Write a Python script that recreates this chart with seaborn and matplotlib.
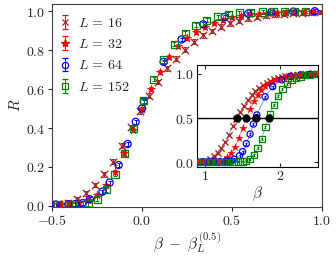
import numpy as np
import pandas as pd
import matplotlib
matplotlib.use("Agg")
import matplotlib.pyplot as plt
import seaborn as sns

sns.set_style("ticks")
plt.rcParams["mathtext.fontset"] = "cm"
plt.rcParams["font.family"] = ["DejaVu Serif"]

# ---------------- data ----------------
L_values = [16, 32, 64, 152]
beta_half = [1.43, 1.55, 1.68, 1.85]

beta_16 = [0.92, 0.97, 1.02, 1.07, 1.12, 1.17, 1.22, 1.27, 1.32, 1.37, 1.42, 1.47, 1.52,
           1.57, 1.62, 1.67, 1.72, 1.77, 1.82, 1.87, 1.92, 1.97, 2.02, 2.07, 2.12, 2.17,
           2.22, 2.27, 2.32, 2.37, 2.42]
R_16 = [0.008, 0.011, 0.017, 0.034, 0.065, 0.108, 0.163, 0.227, 0.31, 0.405, 0.485, 0.566,
        0.637, 0.706, 0.757, 0.803, 0.843, 0.877, 0.899, 0.92, 0.937, 0.95, 0.963, 0.972,
        0.979, 0.984, 0.988, 0.991, 0.993, 0.995, 0.996]

beta_32 = [0.90, 0.95, 1.00, 1.05, 1.10, 1.15, 1.20, 1.25, 1.30, 1.35, 1.40, 1.45, 1.50,
           1.55, 1.60, 1.65, 1.70, 1.75, 1.80, 1.85, 1.90, 1.95, 2.00, 2.05, 2.10, 2.15,
           2.20, 2.25, 2.30, 2.35, 2.40, 2.45, 2.50]
R_32 = [0.006, 0.006, 0.007, 0.008, 0.009, 0.011, 0.016, 0.03, 0.058, 0.105, 0.175, 0.27,
        0.39, 0.5, 0.6, 0.69, 0.765, 0.82, 0.86, 0.893, 0.918, 0.94, 0.957, 0.968, 0.977,
        0.984, 0.988, 0.991, 0.993, 0.995, 0.996, 0.997, 0.998]

beta_64 = [0.90, 0.975, 1.05, 1.125, 1.20, 1.27, 1.31, 1.35, 1.39, 1.46, 1.50, 1.55, 1.60,
           1.645, 1.68, 1.69, 1.80, 1.90, 2.02, 2.14, 2.27, 2.40, 2.52, 2.64]
R_64 = [0.005, 0.005, 0.006, 0.006, 0.007, 0.008, 0.01, 0.014, 0.034, 0.073, 0.12, 0.21,
        0.318, 0.432, 0.5, 0.535, 0.74, 0.855, 0.933, 0.971, 0.988, 0.996, 0.998, 1.0]

beta_152 = [0.90, 0.96, 1.02, 1.08, 1.14, 1.20, 1.26, 1.32, 1.38, 1.44, 1.50, 1.55, 1.60,
            1.65, 1.70, 1.755, 1.805, 1.86, 1.915, 1.97, 2.03, 2.09, 2.15, 2.21, 2.27,
            2.33, 2.39, 2.455, 2.52, 2.58, 2.64, 2.70, 2.76]
R_152 = [0.005, 0.005, 0.005, 0.005, 0.006, 0.006, 0.006, 0.007, 0.007, 0.008, 0.009, 0.012,
         0.034, 0.082, 0.163, 0.267, 0.4, 0.54, 0.651, 0.752, 0.831, 0.886, 0.928, 0.954,
         0.971, 0.985, 0.991, 0.994, 0.996, 0.997, 0.998, 0.999, 0.999]

err_16, err_32, err_64, err_152 = 0.012, 0.01, 0.01, 0.01

betas = [beta_16, beta_32, beta_64, beta_152]
Rs = [R_16, R_32, R_64, R_152]
errs = [err_16, err_32, err_64, err_152]

colors = ["#a52a2a", "#ff0000", "#0000ff", "#008000"]
markers = ["x", "*", "o", "s"]
filled = [True, True, False, False]
sizes_main = [28, 40, 26, 26]
sizes_in = [20, 30, 20, 20]

frames = []
for L, bh, b, r, e in zip(L_values, beta_half, betas, Rs, errs):
    b = np.array(b, dtype=float)
    frames.append(pd.DataFrame({"L": L, "beta": b, "d": b - bh, "R": r, "err": e}))
df = pd.concat(frames, ignore_index=True)

# ---------------- figure ----------------
fig = plt.figure(figsize=(3.36, 2.6), dpi=100)
ax = fig.add_axes([0.155, 0.205, 0.803, 0.778])


def draw(axis, xcol, sizes, capsize, lines=False):
    for i, L in enumerate(L_values):
        sub = df[df["L"] == L]
        c = colors[i]
        axis.errorbar(sub[xcol], sub["R"], yerr=sub["err"], fmt="none", ecolor=c,
                      elinewidth=0.7, capsize=capsize, capthick=0.7, zorder=2)
        if lines:
            sns.lineplot(data=sub, x=xcol, y="R", color=c, lw=0.5, alpha=0.6,
                         sort=False, ax=axis, zorder=2)
        if markers[i] in ("o", "s"):
            sns.scatterplot(data=sub, x=xcol, y="R", marker=markers[i], s=sizes[i],
                            facecolor="none", edgecolor=c, linewidth=0.9, ax=axis,
                            zorder=3, legend=False)
        elif markers[i] == "x":
            sns.scatterplot(data=sub, x=xcol, y="R", marker="x", s=sizes[i], color=c,
                            linewidth=1.0, ax=axis, zorder=3, legend=False)
        else:
            sns.scatterplot(data=sub, x=xcol, y="R", marker="*", s=sizes[i], color=c,
                            edgecolor=c, linewidth=0.3, ax=axis, zorder=3, legend=False)


draw(ax, "d", sizes_main, 1.5)

# legend handles
handles = []
for i, L in enumerate(L_values):
    mfc = colors[i] if filled[i] else "none"
    ms = 6 if markers[i] == "*" else 4.5
    h = ax.errorbar([np.nan], [np.nan], yerr=[0.01], fmt=markers[i], color=colors[i],
                    mfc=mfc, mec=colors[i], ms=ms, mew=0.9, capsize=2, elinewidth=0.7,
                    label=rf"$L\,=\,{L}$")
    handles.append(h)
ax.legend(handles=handles, loc="upper left", frameon=False, fontsize=10,
          handlelength=1.0, handletextpad=0.5, labelspacing=0.53,
          borderaxespad=0.0, bbox_to_anchor=(0.0, 0.972))

ax.set_xlim(-0.5, 1.0)
ax.set_ylim(-0.004, 1.035)
ax.set_xticks([-0.5, 0.0, 0.5, 1.0])
ax.set_xticklabels([r"$-0.5$", r"$0.0$", r"$0.5$", r"$1.0$"], fontsize=10)
ax.set_yticks([0.0, 0.2, 0.4, 0.6, 0.8, 1.0])
ax.set_yticklabels([r"$0.0$", r"$0.2$", r"$0.4$", r"$0.6$", r"$0.8$", r"$1.0$"], fontsize=10)
ax.set_xlabel(r"$\beta\ -\ \beta_L^{(0.5)}$", fontsize=11, labelpad=2)
ax.set_ylabel(r"$R$", fontsize=11, labelpad=2)
ax.tick_params(direction="out", length=3, width=0.8, pad=2)
for s in ax.spines.values():
    s.set_linewidth(0.8)
    s.set_color("0.25")
    s.set_visible(True)

# ---------------- inset ----------------
ax2 = fig.add_axes([0.585, 0.359, 0.361, 0.391])
draw(ax2, "beta", sizes_in, 1.0, lines=True)
ax2.axhline(0.5, color="k", lw=1.0, zorder=4)
sns.scatterplot(x=beta_half, y=[0.5] * len(beta_half), color="k", s=30, ax=ax2,
                zorder=5, legend=False, edgecolor="k")
ax2.set_xlim(0.89, 2.5)
ax2.set_ylim(-0.05, 1.1)
ax2.set_xticks([1, 2])
ax2.set_xticklabels([r"$1$", r"$2$"], fontsize=10)
ax2.set_yticks([0.0, 0.5, 1.0])
ax2.set_yticklabels([r"$0.0$", r"$0.5$", r"$1.0$"], fontsize=10)
ax2.set_xlabel(r"$\beta$", fontsize=11, labelpad=1)
ax2.set_ylabel("")
ax2.tick_params(direction="in", length=3, width=0.8, pad=2, top=True, right=True)
for s in ax2.spines.values():
    s.set_linewidth(0.8)
    s.set_color("k")

fig.savefig("out.png", dpi=100)
